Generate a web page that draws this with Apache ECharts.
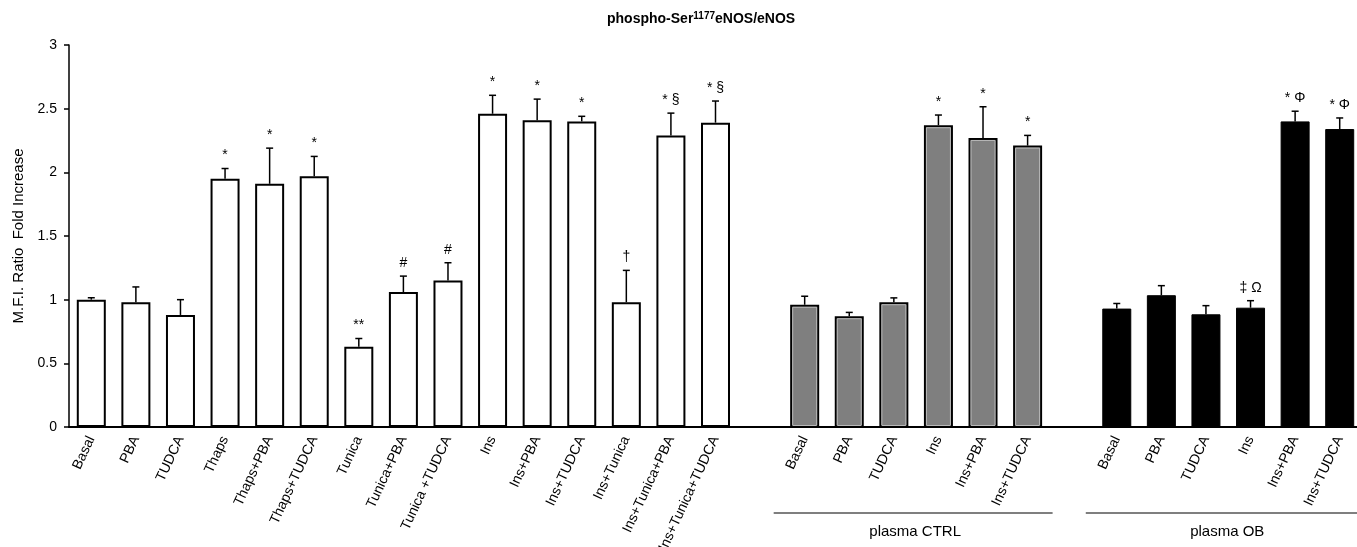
<!DOCTYPE html>
<html>
<head>
<meta charset="utf-8">
<script src="https://cdn.jsdelivr.net/npm/echarts@6/dist/echarts.min.js"></script>
<style>
html,body{margin:0;padding:0;background:#fff;}
#chart{width:1357px;height:547px;}
</style>
</head>
<body>
<div id="chart"></div>
<script>
// ---- data ----
const titleMain = 'phospho-Ser';
const titleSup = '1177';
const titleTail = 'eNOS/eNOS';
const yAxisTitle = 'M.F.I. Ratio  Fold Increase';
const yTicks = [0, 0.5, 1, 1.5, 2, 2.5, 3];

const cellCats = ['Basal','PBA','TUDCA','Thaps','Thaps+PBA','Thaps+TUDCA','Tunica','Tunica+PBA','Tunica +TUDCA','Ins','Ins+PBA','Ins+TUDCA','Ins+Tunica','Ins+Tunica+PBA','Ins+Tunica+TUDCA'];
const cellVals = [1.00,0.98,0.88,1.95,1.91,1.97,0.63,1.06,1.15,2.46,2.41,2.40,0.98,2.29,2.39];
const cellErrs = [0.015,0.12,0.12,0.08,0.28,0.155,0.065,0.125,0.14,0.145,0.165,0.04,0.25,0.175,0.17];
const cellMarks = ['','','','*','*','*','**','#','#','*','*','*','†','* §','* §'];

const ctrlName = 'plasma CTRL';
const ctrlCats = ['Basal','PBA','TUDCA','Ins','Ins+PBA','Ins+TUDCA'];
const ctrlVals = [0.96,0.87,0.98,2.37,2.27,2.21];
const ctrlErrs = [0.067,0.03,0.034,0.08,0.245,0.08];
const ctrlMarks = ['','','','*','*','*'];

const obName = 'plasma OB';
const obCats = ['Basal','PBA','TUDCA','Ins','Ins+PBA','Ins+TUDCA'];
const obVals = [0.93,1.035,0.885,0.937,2.40,2.34];
const obErrs = [0.04,0.075,0.068,0.055,0.08,0.087];
const obMarks = ['','','','‡ Ω','* Φ','* Φ'];

// ---- styles ----
const FONT = 'Liberation Sans, Arial, sans-serif';
const groupStyles = [
  {color:'#ffffff', borderColor:'#000000', borderWidth:2},
  {color:'#7f7f7f', borderColor:'#000000', borderWidth:2},
  {color:'#000000', borderColor:'#000000', borderWidth:1}
];
const BAR_W = 29;

const groups = [
  {cats:cellCats, vals:cellVals, errs:cellErrs, marks:cellMarks, name:''},
  {cats:ctrlCats, vals:ctrlVals, errs:ctrlErrs, marks:ctrlMarks, name:ctrlName},
  {cats:obCats, vals:obVals, errs:obErrs, marks:obMarks, name:obName}
];

const categories = [];
const barData = [];
const errData = [];
const errMarks = [];
const errGroup = [];
const groupSpans = [];
groups.forEach((g, gi) => {
  if (gi > 0) { categories.push(''); barData.push('-'); }
  const start = categories.length;
  g.cats.forEach((c, i) => {
    const idx = categories.length;
    categories.push(c);
    barData.push({value:g.vals[i], itemStyle:groupStyles[gi]});
    errData.push([idx, g.vals[i], g.errs[i]]);
    errMarks.push(g.marks[i]);
    errGroup.push(gi);
  });
  groupSpans.push({start:start, end:categories.length-1, name:g.name});
});

const chart = echarts.init(document.getElementById('chart'), null, {renderer:'canvas'});

const option = {
  animation:false,
  backgroundColor:'#fff',
  title:{
    text:titleMain + '{sup|' + titleSup + '}' + titleTail,
    left:602, top:6,
    textStyle:{
      fontFamily:FONT, fontSize:14, fontWeight:'bold', color:'#000',
      rich:{sup:{fontFamily:FONT, fontSize:10, fontWeight:'bold', color:'#000', verticalAlign:'top', padding:[0,0,7,0]}}
    }
  },
  grid:{left:69, right:-5, top:45, bottom:120, containLabel:false, outerBoundsMode:'none'},
  xAxis:{
    type:'category',
    data:categories,
    axisLine:{show:true, lineStyle:{color:'#000', width:2}},
    axisTick:{show:false},
    axisLabel:{interval:0, rotate:65, margin:10, fontFamily:FONT, fontSize:14, color:'#000'},
    splitLine:{show:false}
  },
  yAxis:{
    type:'value',
    min:yTicks[0], max:yTicks[yTicks.length-1], interval:0.5,
    name:yAxisTitle,
    nameLocation:'middle',
    nameGap:42,
    nameTextStyle:{fontFamily:FONT, fontSize:15, color:'#000'},
    axisLine:{show:true, lineStyle:{color:'#000', width:1.5}},
    axisTick:{show:true, length:5, lineStyle:{color:'#000', width:1.5}},
    axisLabel:{fontFamily:FONT, fontSize:14, color:'#000', margin:12},
    splitLine:{show:false}
  },
  series:[
    {
      type:'bar',
      data:barData,
      barWidth:BAR_W,
      z:2
    },
    {
      type:'custom',
      data:errData,
      z:3,
      renderItem:function(params, api){
        const xi = api.value(0), v = api.value(1), e = api.value(2);
        const p0 = api.coord([xi, v]);
        const p1 = api.coord([xi, v + e]);
        const gi = errGroup[params.dataIndex];
        const children = [
          {type:'line', shape:{x1:p0[0], y1:p0[1], x2:p1[0], y2:p1[1]}, style:{stroke:'#000', lineWidth:1.5}},
          {type:'line', shape:{x1:p1[0]-3.5, y1:p1[1], x2:p1[0]+3.5, y2:p1[1]}, style:{stroke:'#000', lineWidth:1.5}}
        ];
        if (gi === 1) {
          const base = api.coord([xi, 0]);
          children.unshift({type:'rect', shape:{x:p0[0]-BAR_W/2+2.5, y:p0[1]+2.5, width:BAR_W-5, height:base[1]-p0[1]-4}, style:{fill:null, stroke:'#b8b8b8', lineWidth:1}});
        }
        const m = errMarks[params.dataIndex];
        if (m) {
          children.push({type:'text', style:{text:m, x:p1[0], y:p1[1]-6, textAlign:'center', textVerticalAlign:'bottom', fontFamily:FONT, fontSize:14, fill:'#000'}});
        }
        return {type:'group', children:children};
      }
    }
  ]
};
chart.setOption(option);

// group brackets under the axis
const axisY = chart.convertToPixel({yAxisIndex:0}, 0);
const graphics = [];
groupSpans.forEach(s => {
  if (!s.name) return;
  const xa = chart.convertToPixel({xAxisIndex:0}, s.start);
  const xb = chart.convertToPixel({xAxisIndex:0}, s.end);
  graphics.push({type:'line', shape:{x1:xa-31, y1:axisY+86, x2:xb+25, y2:axisY+86}, style:{stroke:'#000', lineWidth:1.2}});
  graphics.push({type:'text', style:{text:s.name, x:(xa+xb)/2-1, y:axisY+105, textAlign:'center', textVerticalAlign:'middle', fontFamily:FONT, fontSize:15, fill:'#000'}});
});
chart.setOption({graphic:graphics});
</script>
</body>
</html>
